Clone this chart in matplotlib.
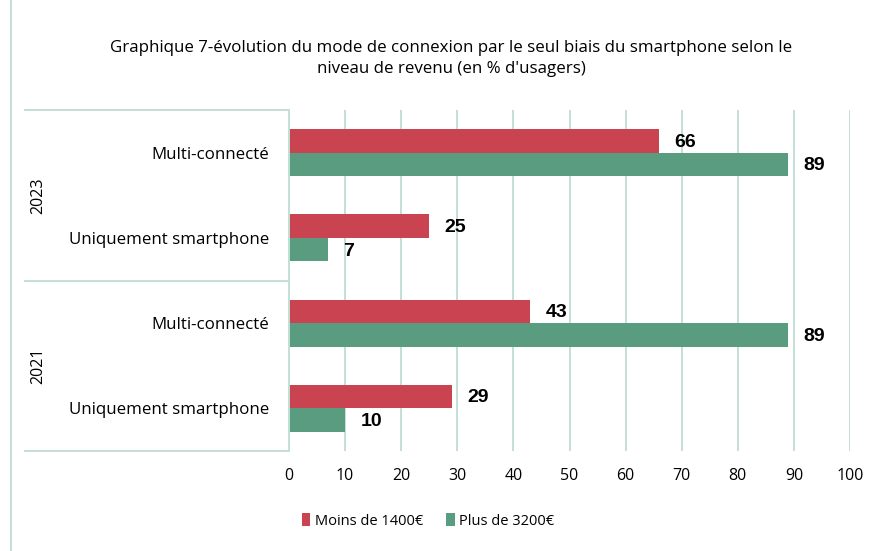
"""Graphique 7 - connexion par le seul smartphone selon le revenu."""

import numpy as np
import matplotlib
matplotlib.use("Agg")
import matplotlib.pyplot as plt
from matplotlib.patches import Rectangle
from matplotlib.lines import Line2D

years = ["2023", "2021"]
categories = ["Multi-connecté", "Uniquement smartphone",
              "Multi-connecté", "Uniquement smartphone"]
series_names = ["Moins de 1400€", "Plus de 3200€"]
low_income = [66, 25, 43, 29]
high_income = [89, 7, 89, 10]
x_ticks = [0, 10, 20, 30, 40, 50, 60, 70, 80, 90, 100]

RED = "#C94450"
GREEN = "#5A9C7F"
GRID = "#C3DFD6"
FONT = "Open Sans"

plt.rcParams["font.family"] = [FONT, "DejaVu Sans"]

fig = plt.figure(figsize=(8.85, 5.51), dpi=100)
ax = fig.add_axes([289 / 885, 1 - 451 / 551, 561 / 885, 341 / 551])

y = np.arange(len(categories))
h = 0.276
ax.barh(y - h / 2, low_income, height=h, color=RED, label=series_names[0],
        zorder=3)
ax.barh(y + h / 2, high_income, height=h, color=GREEN, label=series_names[1],
        zorder=3)

bold = dict(va="center", ha="left", fontsize=14, fontweight="bold",
            family=["Liberation Sans", "DejaVu Sans"])
for yy, v in zip(y - h / 2, low_income):
    ax.annotate(str(v), (v, yy), xytext=(11, -1), textcoords="offset points",
                **bold)
for yy, v in zip(y + h / 2, high_income):
    ax.annotate(str(v), (v, yy), xytext=(11, -1), textcoords="offset points",
                **bold)

ax.set_xlim(0, 100)
ax.set_ylim(3.5, -0.5)
ax.set_xticks(x_ticks)
ax.set_xticklabels([str(t) for t in x_ticks], fontsize=11.5)
ax.set_yticks(y)
ax.set_yticklabels(categories, fontsize=12.2)
ax.tick_params(axis="both", length=0)
ax.tick_params(axis="y", pad=14)
ax.tick_params(axis="x", pad=12)
ax.grid(axis="x", color=GRID, lw=1.4, zorder=0)
for s in ["top", "right", "bottom"]:
    ax.spines[s].set_visible(False)
ax.spines["left"].set_color(GRID)
ax.spines["left"].set_linewidth(1.4)
ax.spines["left"].set_zorder(4)

# multi-level category axis: year groups
tr = ax.get_yaxis_transform()
x0 = (25 - 289) / 561
for yb in [-0.5, 1.5, 3.5]:
    ax.add_line(Line2D([x0, 0], [yb, yb], transform=tr, color=GRID, lw=1.4,
                       clip_on=False))
for i, yr in enumerate(years):
    ax.text((38 - 289) / 561, 2 * i + 0.5, yr, transform=tr, rotation=90,
            ha="center", va="center", fontsize=11.5)

fig.suptitle("Graphique 7-évolution du mode de connexion par le seul biais "
             "du smartphone selon le\nniveau de revenu (en % d'usagers)",
             x=451 / 885, y=1 - 40 / 551, fontsize=12.2, linespacing=1.45)

fig.legend(loc="center", bbox_to_anchor=(428 / 885, 1 - 521 / 551), ncol=2,
           frameon=False, fontsize=10.5, handlelength=0.6, handleheight=1.0,
           handletextpad=0.3, columnspacing=1.6)

fig.add_artist(Rectangle((11 / 885, -0.2), 1.2, 1.2 + 1 - 12 / 551,
                         transform=fig.transFigure, fill=False,
                         edgecolor=GRID, lw=1.4))

fig.savefig("out.png", dpi=100)
